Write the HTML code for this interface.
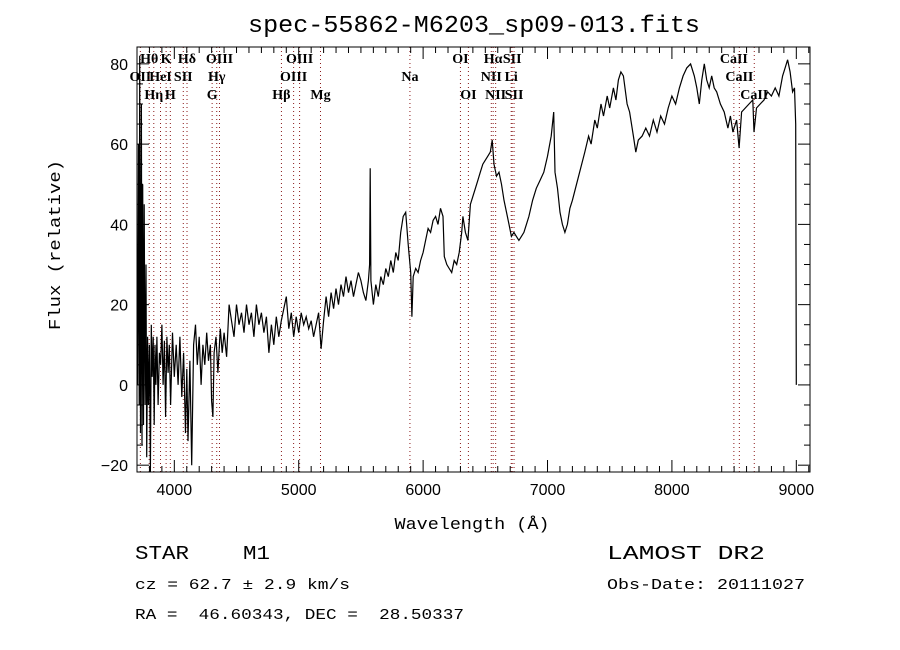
<!DOCTYPE html>
<html><head><meta charset="utf-8"><style>
html,body{margin:0;padding:0;background:#fff;}
svg{display:block;}
text{font-family:"Liberation Serif",serif;fill:#000;white-space:pre;}
.mono{font-family:"Liberation Mono",monospace;}
.sans{font-family:"Liberation Sans",sans-serif;}
</style></head><body>
<svg id="chart" width="900" height="650" viewBox="0 0 900 650" xmlns="http://www.w3.org/2000/svg" xml:space="preserve">
<rect width="900" height="650" fill="#fff"/>
<text x="474" y="32" font-size="24" text-anchor="middle" textLength="452" lengthAdjust="spacingAndGlyphs" class="mono">spec-55862-M6203_sp09-013.fits</text>
<g id="plot"></g>
<text x="60" y="245" font-size="17" text-anchor="middle" transform="rotate(-90 60 245)" class="mono" textLength="170" lengthAdjust="spacingAndGlyphs">Flux (relative)</text>
<text x="472" y="529" font-size="17" text-anchor="middle" class="mono" textLength="155" lengthAdjust="spacingAndGlyphs">Wavelength (Å)</text>
<text x="135" y="559" font-size="19" class="mono" textLength="135" lengthAdjust="spacingAndGlyphs">STAR    M1</text>
<text x="607" y="559" font-size="19" class="mono" textLength="158" lengthAdjust="spacingAndGlyphs">LAMOST DR2</text>
<text x="135" y="589" font-size="15" class="mono" textLength="215" lengthAdjust="spacingAndGlyphs">cz = 62.7 ± 2.9 km/s</text>
<text x="607" y="589" font-size="15" class="mono" textLength="198" lengthAdjust="spacingAndGlyphs">Obs-Date: 20111027</text>
<text x="135" y="619" font-size="15" class="mono" textLength="329" lengthAdjust="spacingAndGlyphs">RA =  46.60343, DEC =  28.50337</text>
</svg>
<script>
const wavelengths=[3705,3712,3718,3722,3728,3735,3740,3746,3752,3758,3765,3772,3778,3785,3792,3800,3808,3815,3822,3830,3838,3845,3852,3860,3870,3880,3890,3900,3910,3920,3930,3940,3950,3960,3970,3985,4000,4015,4030,4045,4060,4075,4090,4100,4110,4125,4140,4155,4170,4185,4200,4215,4230,4245,4260,4275,4290,4300,4310,4320,4335,4350,4370,4385,4400,4420,4440,4460,4480,4500,4520,4540,4560,4580,4600,4620,4640,4660,4680,4700,4720,4740,4760,4780,4800,4820,4840,4860,4880,4900,4920,4940,4960,4980,5000,5020,5040,5060,5080,5100,5120,5140,5160,5180,5200,5220,5240,5260,5280,5300,5320,5340,5360,5380,5400,5420,5440,5460,5480,5500,5520,5540,5560,5570,5575,5580,5600,5620,5640,5660,5680,5700,5720,5740,5760,5780,5800,5820,5840,5860,5880,5900,5910,5920,5940,5960,5980,6000,6020,6040,6060,6080,6100,6120,6140,6160,6170,6190,6210,6230,6250,6270,6290,6310,6320,6340,6360,6380,6400,6420,6440,6460,6480,6500,6520,6540,6555,6570,6590,6610,6630,6650,6670,6690,6710,6730,6750,6770,6790,6810,6830,6850,6880,6910,6940,6970,7000,7030,7050,7060,7080,7100,7120,7140,7160,7180,7200,7250,7300,7330,7350,7380,7400,7430,7450,7480,7500,7530,7550,7570,7590,7610,7640,7660,7690,7710,7730,7760,7790,7820,7850,7880,7910,7940,7970,8000,8030,8060,8090,8120,8150,8180,8200,8220,8240,8260,8280,8300,8320,8340,8360,8390,8420,8450,8470,8490,8520,8540,8560,8590,8620,8650,8660,8680,8710,8740,8770,8800,8830,8860,8890,8910,8930,8950,8970,8985,8995,9000];
const fluxes=[0,60,-5,82,-12,70,-15,50,-10,45,-5,30,-18,12,-5,10,-22,15,2,12,-10,10,0,12,-5,8,5,15,0,11,-8,12,3,10,-5,13,2,10,0,12,-3,8,-12,4,-14,6,-20,10,15,5,12,0,10,5,13,6,10,-4,-8,8,12,3,14,8,13,7,20,16,12,20,15,18,13,20,15,18,12,20,15,18,13,17,8,15,10,17,12,16,19,22,14,18,12,17,13,18,15,17,14,16,12,15,18,9,16,22,17,23,19,24,20,25,22,27,23,26,22,25,28,26,23,21,26,30,54,26,20,25,22,27,25,29,27,31,28,33,31,38,42,43,35,28,17,27,29,28,31,33,36,39,38,41,42,40,44,42,32,30,29,28,31,30,33,38,42,38,36,45,47,49,51,53,55,56,57,58,61,55,52,53,50,46,43,40,37,38,37,36,37,38,40,42,46,49,51,53,57,62,68,53,49,43,40,38,40,44,46,52,58,62,60,66,64,70,67,72,69,74,71,76,78,77,70,68,62,58,61,62,64,62,66,63,67,65,69,72,70,74,77,79,80,77,74,70,76,80,76,74,77,74,73,70,68,64,67,63,66,59,68,69,70,71,63,69,70,71,73,72,74,72,77,79,81,78,73,74,65,0];
const xTicks=[4000,5000,6000,7000,8000,9000];
const yTicks=[-20,0,20,40,60,80];
const lineWaves=[3727,3798,3835,3889,3934,3968,4072,4102,4304,4341,4363,4861,4959,5007,5175,5894,6300,6364,6548,6563,6583,6708,6716,6731,8498,8542,8662];
const lineNames=["OII","Hθ","Hη","HeI","K","H","SII","Hδ","G","Hγ","OIII","Hβ","OIII","OIII","Mg","Na","OI","OI","NII","Hα","NII","Li","SII","SII","CaII","CaII","CaII"];
const lineRows=[1,0,2,1,0,2,1,0,2,1,0,2,1,0,2,1,0,2,1,0,2,1,0,2,0,1,2];

const L=137,R=810,T=47,B=472;
const xMin=3700,xMax=9110,yMin=-21.7,yMax=84.2;
const sx=w=>L+(w-xMin)/(xMax-xMin)*(R-L);
const sy=f=>B-(f-yMin)/(yMax-yMin)*(B-T);
const NS="http://www.w3.org/2000/svg";
const g=document.getElementById('plot');
function mk(t,a){const e=document.createElementNS(NS,t);for(const k in a)e.setAttribute(k,a[k]);g.appendChild(e);return e;}

lineWaves.forEach((w,i)=>{
  const x=sx(w);
  const l=mk('line',{x1:x,x2:x,y1:T,y2:B,stroke:'#8b1a1a','stroke-width':1,'stroke-dasharray':'1,3'});
  
  
  const t=mk('text',{x:x,y:63+lineRows[i]*18,'font-size':14,'font-weight':'bold','text-anchor':'middle'});
  t.textContent=lineNames[i];
  
  
});

const n=Math.min(wavelengths.length,fluxes.length);
let pts=wavelengths.slice(0,n).map((w,i)=>sx(w).toFixed(1)+','+sy(Math.max(yMin,Math.min(yMax,fluxes[i]))).toFixed(1)).join(' ');
const pl=mk('polyline',{points:pts,fill:'none',stroke:'#000','stroke-width':1.2});



const fr=mk('rect',{x:L,y:T,width:R-L,height:B-T,fill:'none',stroke:'#000','stroke-width':1});



for(let w=3700;w<=9100;w+=100){
  const x=sx(w);const maj=w%1000===0;const len=maj?12:6;
  mk('line',{x1:x,x2:x,y1:B,y2:B-len,stroke:'#000'});
  mk('line',{x1:x,x2:x,y1:T,y2:T+len,stroke:'#000'});
}
xTicks.forEach(v=>{
  const t=mk('text',{x:sx(v),y:B+23,'font-size':16,'text-anchor':'middle',class:'sans'});
  t.textContent=v;
  
  
});
for(let f=-20;f<=80;f+=5){
  const y=sy(f);const maj=f%20===0;const len=maj?12:6;
  mk('line',{x1:L,x2:L+len,y1:y,y2:y,stroke:'#000'});
  mk('line',{x1:R,x2:R-len,y1:y,y2:y,stroke:'#000'});
}
yTicks.forEach(v=>{
  const t=mk('text',{x:L-9,y:sy(v)+6,'font-size':16,'text-anchor':'end',class:'sans'});
  t.textContent=v<0?'−'+Math.abs(v):v;
  
  
});
</script>
</body></html>
